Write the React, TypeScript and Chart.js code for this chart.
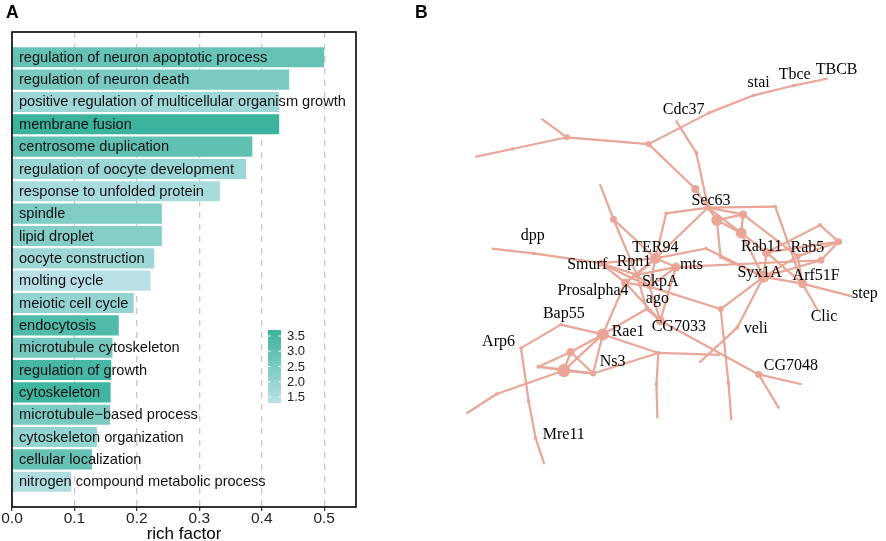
import React, { useEffect, useRef } from "react";
import { Chart, registerables } from "chart.js";
Chart.register(...registerables);

// ---------- Panel A data ----------
const categories = [
  "regulation of neuron apoptotic process",
  "regulation of neuron death",
  "positive regulation of multicellular organism growth",
  "membrane fusion",
  "centrosome duplication",
  "regulation of oocyte development",
  "response to unfolded protein",
  "spindle",
  "lipid droplet",
  "oocyte construction",
  "molting cycle",
  "meiotic cell cycle",
  "endocytosis",
  "microtubule cytoskeleton",
  "regulation of growth",
  "cytoskeleton",
  "microtubule\u2212based process",
  "cytoskeleton organization",
  "cellular localization",
  "nitrogen compound metabolic process",
];
const richFactor = [
  0.5, 0.444, 0.428, 0.428, 0.385, 0.375, 0.333, 0.24, 0.24, 0.228,
  0.222, 0.195, 0.171, 0.161, 0.159, 0.158, 0.157, 0.136, 0.128, 0.095,
];
const colorValue = [
  2.9, 2.5, 1.8, 3.7, 3.0, 1.9, 1.6, 2.4, 2.3, 1.8,
  1.3, 2.0, 3.3, 2.6, 3.5, 3.6, 2.5, 2.0, 2.9, 1.5,
];
const xTicks = [0, 0.1, 0.2, 0.3, 0.4, 0.5];
const legendTicks = [1.5, 2.0, 2.5, 3.0, 3.5];

// ---------- Panel B data (network layout) ----------
const nodes: [string, number, number, number][] = [
  ["TBCB", 832, 74, 1], ["Tbce", 798, 81, 1.8], ["stai", 757, 91, 1.8],
  ["Cdc37", 711, 109, 1.8], ["j1", 649, 141, 3], ["j2", 565, 134, 3],
  ["e1", 539, 115, 0], ["a1", 509, 146, 1.8], ["e2", 471, 154, 0],
  ["s1", 697, 187, 4], ["e3", 677, 117, 0], ["b1", 698, 150, 1.8],
  ["Sec63", 710, 206, 3], ["d1", 719, 219, 5.5], ["n1", 746, 213, 4],
  ["f1", 744, 232, 5.5], ["c1", 779, 205, 1.8], ["h1", 667, 212, 1.8],
  ["k1", 613, 218, 3.5], ["e4", 599, 182, 0], ["TER94", 656, 258, 5.5],
  ["i1", 708, 248, 1.8], ["g1", 723, 257, 1.8], ["mts", 677, 267, 4.5],
  ["Smurf", 600, 263, 3.5], ["dpp", 531, 253, 1.8], ["e5", 488, 248, 0],
  ["Rpn1", 637, 275, 3], ["Prosalpha4", 625, 283, 4], ["SkpA", 650, 287, 3],
  ["ago", 647, 310, 2], ["CG7033", 661, 322, 4.5], ["Rae1", 602, 336, 6],
  ["Bap55", 559, 326, 1.8], ["Arp6", 518, 350, 1.8], ["s2", 526, 405, 1.8],
  ["Mre11", 533, 442, 1.8], ["e8", 542, 469, 0], ["t1", 569, 354, 4],
  ["u1", 562, 373, 6.5], ["w1", 536, 369, 2], ["Ns3", 592, 376, 3],
  ["x1", 493, 397, 1.8], ["e9", 462, 417, 0], ["v1", 659, 355, 2],
  ["y1", 657, 387, 1.8], ["e10", 658, 422, 0], ["e11", 722, 357, 0],
  ["o1", 723, 310, 3], ["p1", 731, 386, 1.8], ["e6", 734, 424, 0],
  ["Syx1A", 767, 277, 6], ["veli", 740, 329, 2], ["e7", 701, 365, 0],
  ["Rab11", 770, 252, 4.5], ["Rab5", 802, 256, 3], ["r1", 825, 224, 2],
  ["n2", 844, 241, 3.5], ["q1", 826, 260, 3.5], ["Arf51F", 807, 284, 4.5],
  ["step", 858, 297, 0], ["Clic", 823, 312, 0], ["CG7048", 762, 377, 3.5],
  ["e12", 806, 387, 0], ["e13", 783, 412, 0],
];
const edges: [string, string][] = [
  ["TBCB", "Tbce"], ["Tbce", "stai"], ["stai", "Cdc37"], ["Cdc37", "j1"],
  ["j1", "j2"], ["j2", "e1"], ["j2", "a1"], ["a1", "e2"], ["j1", "s1"],
  ["s1", "Sec63"], ["e3", "b1"], ["b1", "Sec63"], ["Sec63", "c1"],
  ["c1", "Arf51F"], ["Sec63", "d1"], ["Sec63", "n1"], ["Sec63", "f1"],
  ["d1", "n1"], ["d1", "f1"], ["n1", "f1"], ["n1", "Rab5"], ["f1", "Syx1A"],
  ["f1", "Rab11"], ["d1", "g1"], ["Sec63", "h1"], ["h1", "TER94"],
  ["Sec63", "TER94"], ["e4", "k1"], ["k1", "Rpn1"], ["k1", "TER94"],
  ["TER94", "i1"], ["i1", "Syx1A"], ["g1", "Syx1A"], ["TER94", "mts"],
  ["mts", "q1"], ["TER94", "Rpn1"], ["TER94", "Smurf"], ["TER94", "SkpA"],
  ["TER94", "Prosalpha4"], ["e5", "dpp"], ["dpp", "Smurf"], ["Smurf", "Rpn1"],
  ["Smurf", "Prosalpha4"], ["Smurf", "SkpA"], ["Rpn1", "SkpA"],
  ["Rpn1", "Prosalpha4"], ["Rpn1", "mts"], ["SkpA", "mts"],
  ["Prosalpha4", "SkpA"], ["Prosalpha4", "Rae1"], ["Prosalpha4", "CG7033"],
  ["Rpn1", "ago"], ["SkpA", "CG7033"], ["ago", "CG7033"], ["mts", "CG7033"],
  ["Rae1", "ago"], ["SkpA", "o1"], ["o1", "Syx1A"], ["o1", "p1"], ["p1", "e6"],
  ["Syx1A", "veli"], ["veli", "e7"], ["Syx1A", "Rab11"], ["Syx1A", "Rab5"],
  ["Syx1A", "Arf51F"], ["Syx1A", "q1"], ["Rab11", "r1"], ["r1", "n2"],
  ["Rab11", "n2"], ["Rab5", "n2"], ["q1", "n2"], ["Arf51F", "step"],
  ["Arf51F", "Clic"], ["Arf51F", "Rab11"], ["Rab5", "Arf51F"],
  ["Bap55", "Arp6"], ["Bap55", "Rae1"], ["Arp6", "s2"], ["s2", "Mre11"],
  ["Mre11", "e8"], ["Rae1", "t1"], ["Rae1", "u1"], ["Rae1", "Ns3"],
  ["Rae1", "v1"], ["t1", "u1"], ["t1", "w1"], ["t1", "Ns3"], ["u1", "w1"],
  ["u1", "Ns3"], ["w1", "Ns3"], ["u1", "x1"], ["x1", "e9"], ["Ns3", "v1"],
  ["v1", "y1"], ["y1", "e10"], ["v1", "e11"], ["CG7033", "CG7048"],
  ["CG7048", "e12"], ["CG7048", "e13"],
];
const geneLabels: [string, number, number][] = [
  ["TBCB", 842, 65], ["Tbce", 799, 70], ["stai", 762, 78], ["Cdc37", 685, 106],
  ["Sec63", 713, 199], ["dpp", 530, 235], ["TER94", 656, 247], ["Rpn1", 634, 262],
  ["mts", 693, 265], ["Smurf", 586, 265], ["Rab11", 765, 246], ["Rab5", 812, 247],
  ["Syx1A", 763, 273], ["Arf51F", 821, 276], ["step", 871, 294], ["Clic", 829, 318],
  ["SkpA", 661, 282], ["Prosalpha4", 592, 291], ["ago", 658, 300], ["Bap55", 562, 315],
  ["Rae1", 628, 333], ["CG7033", 680, 328], ["veli", 759, 330], ["Arp6", 495, 344],
  ["Ns3", 612, 364], ["CG7048", 795, 368], ["Mre11", 562, 439],
];

const SANS = '"Liberation Sans", Arial, sans-serif';
const SERIF = '"Liberation Serif", "Times New Roman", serif';
const LOW = [185, 225, 229];
const HIGH = [59, 179, 157];
const EDGE = "#e9a596";

const cmin = Math.min(...colorValue);
const cmax = Math.max(...colorValue);
function colorFor(v: number) {
  const t = (v - cmin) / (cmax - cmin);
  const c = LOW.map((l, i) => Math.round(l + (HIGH[i] - l) * t));
  return `rgb(${c[0]},${c[1]},${c[2]})`;
}

export default function App() {
  const refA = useRef<HTMLCanvasElement | null>(null);
  const refB = useRef<HTMLCanvasElement | null>(null);

  useEffect(() => {
    const boxPlugin = {
      id: "boxA",
      afterDatasetsDraw(chart: any) {
        const { ctx, chartArea: a } = chart;
        ctx.save();
        // bar labels
        const meta = chart.getDatasetMeta(0);
        ctx.fillStyle = "#111";
        ctx.font = `14.6px ${SANS}`;
        ctx.textBaseline = "middle";
        ctx.textAlign = "left";
        meta.data.forEach((el: any, i: number) => {
          ctx.fillText(categories[i], a.left + 7, el.y + 0.5);
        });
        // frame
        ctx.strokeStyle = "#000";
        ctx.lineWidth = 1.6;
        ctx.strokeRect(a.left, a.top, a.right - a.left, a.bottom - a.top);
        // colorbar
        const bx = a.left + 256, bw = 13, by = 330, bh = 73;
        const g = ctx.createLinearGradient(0, by, 0, by + bh);
        g.addColorStop(0, colorFor(cmax));
        g.addColorStop(1, colorFor(cmin));
        ctx.fillStyle = g;
        ctx.fillRect(bx, by, bw, bh);
        ctx.font = `13px ${SANS}`;
        ctx.fillStyle = "#222";
        ctx.strokeStyle = "#fff";
        ctx.lineWidth = 1;
        legendTicks.forEach((v) => {
          const y = by + ((cmax - v) / (cmax - cmin)) * bh;
          ctx.beginPath();
          ctx.moveTo(bx, y); ctx.lineTo(bx + 2.5, y);
          ctx.moveTo(bx + bw - 2.5, y); ctx.lineTo(bx + bw, y);
          ctx.stroke();
          ctx.fillText(v.toFixed(1), bx + bw + 6, y + 0.5);
        });
        // panel letter
        ctx.fillStyle = "#000";
        ctx.font = `bold 17.5px ${SANS}`;
        ctx.textBaseline = "alphabetic";
        ctx.fillText("A", 6, 17.5);
        ctx.restore();
      },
    };

    const chartA = new Chart(refA.current as HTMLCanvasElement, {
      type: "bar",
      data: {
        datasets: [
          {
            data: richFactor.map((v, i) => ({ x: v, y: i })) as any,
            backgroundColor: colorValue.map(colorFor),
            borderWidth: 0,
            barPercentage: 0.9,
            categoryPercentage: 1,
          },
        ],
      },
      options: {
        indexAxis: "y",
        animation: false,
        responsive: false,
        events: [],
        layout: { padding: { left: 12, top: 32, right: 24, bottom: 0 } },
        scales: {
          x: {
            type: "linear",
            min: 0,
            max: 0.551,
            afterBuildTicks: (s: any) => {
              s.ticks = xTicks.map((v) => ({ value: v }));
            },
            afterFit: (s: any) => {
              s.height = 34;
            },
            ticks: {
              callback: (v: any) => Number(v).toFixed(1),
              font: { size: 15.5, family: SANS },
              color: "#222",
              padding: -2,
              maxRotation: 0,
            },
            grid: {
              color: "#c8c8c8",
              lineWidth: 1.3,
              tickColor: "#333",
              tickLength: 4,
              tickWidth: 1.2,
              tickBorderDash: [],
            },
            border: { display: false, dash: [6, 6] },
            title: {
              display: true,
              text: "rich factor",
              color: "#000",
              font: { size: 17, family: SANS, lineHeight: 1 },
              padding: { top: 0, bottom: -1.5 },
            },
          },
          y: {
            type: "linear",
            reverse: true,
            min: -0.6,
            max: 19.6,
            display: false,
            afterBuildTicks: (s: any) => {
              s.ticks = categories.map((_, i) => ({ value: i }));
            },
          },
        },
        plugins: { legend: { display: false }, tooltip: { enabled: false } },
      } as any,
      plugins: [boxPlugin],
    });

    const pos: Record<string, [number, number]> = {};
    nodes.forEach((n) => (pos[n[0]] = [n[1], n[2]]));

    const labelPlugin = {
      id: "geneLabels",
      afterDatasetsDraw(chart: any) {
        const { ctx } = chart;
        const xs = chart.scales.x, ys = chart.scales.y;
        ctx.save();
        ctx.fillStyle = "#000";
        ctx.font = `16px ${SERIF}`;
        ctx.textAlign = "center";
        ctx.textBaseline = "middle";
        geneLabels.forEach(([t, x, y]) => {
          ctx.fillText(t, xs.getPixelForValue(x), ys.getPixelForValue(y));
        });
        ctx.textAlign = "left";
        ctx.textBaseline = "alphabetic";
        ctx.font = `bold 17.5px ${SANS}`;
        ctx.fillText("B", 35, 17.5);
        ctx.restore();
      },
    };

    const edgeSets = edges.map(([a, b]) => ({
      data: [
        { x: pos[a][0], y: pos[a][1] },
        { x: pos[b][0], y: pos[b][1] },
      ],
      showLine: true,
      borderColor: EDGE,
      borderWidth: 2.2,
      pointRadius: 0,
      order: 1,
    }));
    const nodeSet = {
      data: nodes.map((n) => ({ x: n[1], y: n[2] })),
      pointRadius: nodes.map((n) => n[3]),
      backgroundColor: EDGE,
      pointBackgroundColor: EDGE,
      pointBorderWidth: 0,
      borderWidth: 0,
      showLine: false,
      order: 0,
    };

    const chartB = new Chart(refB.current as HTMLCanvasElement, {
      type: "scatter",
      data: { datasets: [...edgeSets, nodeSet] as any },
      options: {
        animation: false,
        responsive: false,
        events: [],
        layout: { padding: 0 },
        scales: {
          x: { type: "linear", min: 380, max: 886, display: false },
          y: { type: "linear", min: 0, max: 541, reverse: true, display: false },
        },
        plugins: { legend: { display: false }, tooltip: { enabled: false } },
      } as any,
      plugins: [labelPlugin],
    });

    return () => {
      chartA.destroy();
      chartB.destroy();
    };
  }, []);

  return (
    <div
      style={{
        position: "absolute",
        left: 0,
        top: 0,
        width: 886,
        height: 541,
        background: "#fff",
        overflow: "hidden",
      }}
    >
      <canvas
        ref={refA}
        width={380}
        height={541}
        style={{ position: "absolute", left: 0, top: 0, width: 380, height: 541 }}
      />
      <canvas
        ref={refB}
        width={506}
        height={541}
        style={{ position: "absolute", left: 380, top: 0, width: 506, height: 541 }}
      />
    </div>
  );
}
